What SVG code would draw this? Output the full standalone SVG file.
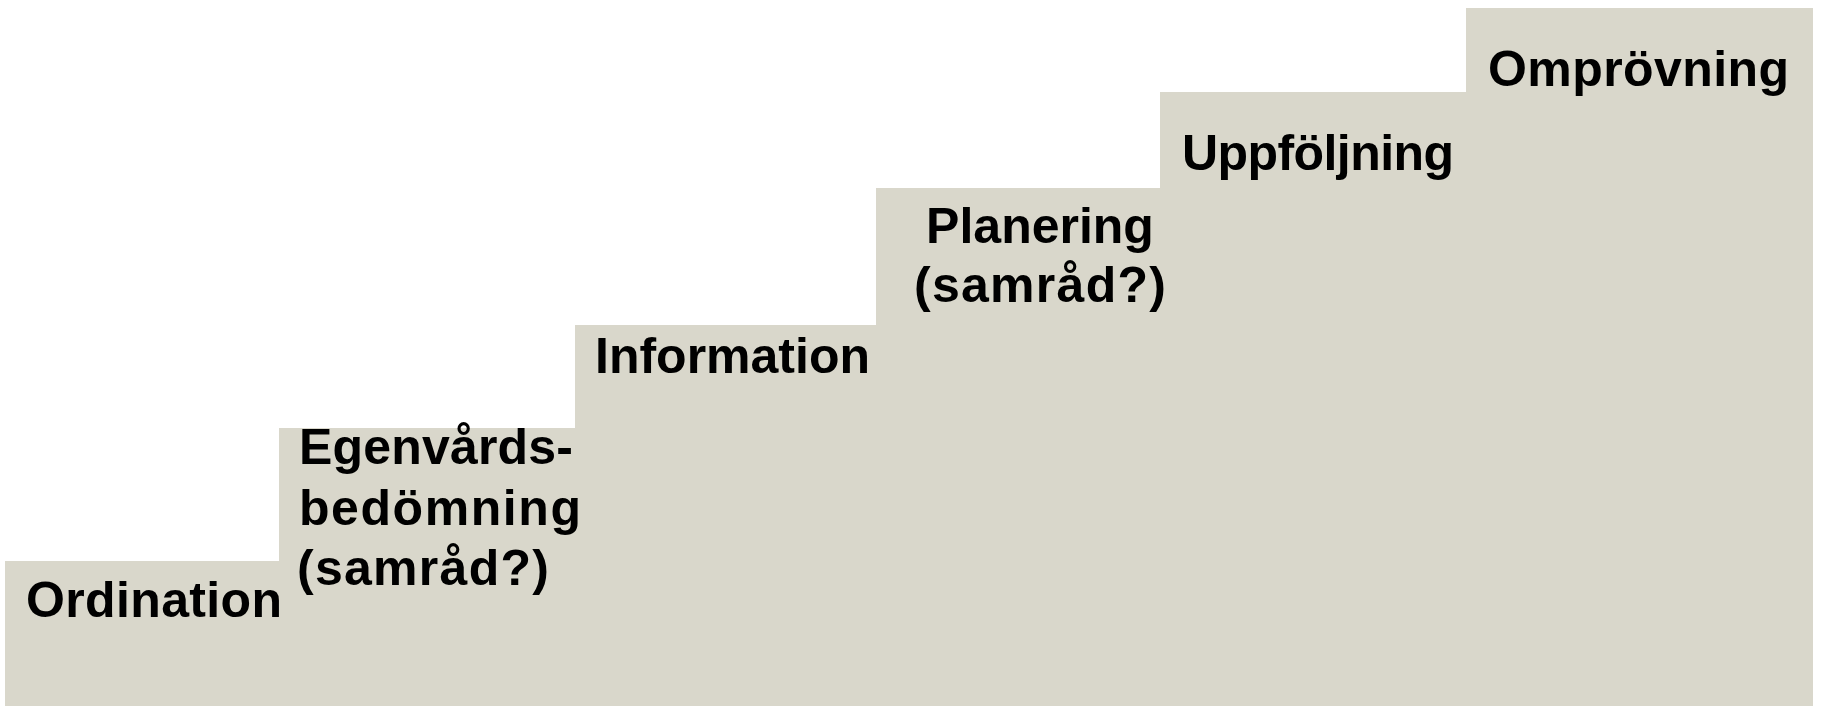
<svg xmlns="http://www.w3.org/2000/svg" width="1822" height="706" viewBox="0 0 1822 706">
<style>
.step{fill:#D9D7CB;stroke:none}
.lbl{font-family:"Liberation Sans",Arial,sans-serif;font-weight:bold;font-size:50px;fill:#000}
</style>
<rect width="1822" height="706" fill="#FFFFFF"/>
<g id="step-omprovning">
<rect class="step" x="1466" y="8" width="347" height="698"/>
<text class="lbl" x="1488" y="86" textLength="301" lengthAdjust="spacing">Omprövning</text>
</g>
<g id="step-uppfoljning">
<rect class="step" x="1160" y="92" width="307" height="614"/>
<text class="lbl" x="1182" y="170" textLength="272" lengthAdjust="spacing">Uppföljning</text>
</g>
<g id="step-planering">
<rect class="step" x="876" y="188" width="285" height="518"/>
<text class="lbl" x="1040" y="243" text-anchor="middle">Planering</text>
<text class="lbl" x="914" y="302" textLength="252" lengthAdjust="spacing">(samråd?)</text>
</g>
<g id="step-information">
<rect class="step" x="575" y="325" width="302" height="381"/>
<text class="lbl" x="595" y="373" textLength="275" lengthAdjust="spacing">Information</text>
</g>
<g id="step-egenvard">
<rect class="step" x="279" y="428" width="297" height="278"/>
<text class="lbl" x="299" y="464" textLength="274" lengthAdjust="spacing">Egenvårds-</text>
<text class="lbl" x="299" y="525" textLength="282" lengthAdjust="spacing">bedömning</text>
<text class="lbl" x="297" y="585" textLength="252" lengthAdjust="spacing">(samråd?)</text>
</g>
<g id="step-ordination">
<rect class="step" x="5" y="561" width="275" height="145"/>
<text class="lbl" x="26" y="617" textLength="256" lengthAdjust="spacing">Ordination</text>
</g>
</svg>
